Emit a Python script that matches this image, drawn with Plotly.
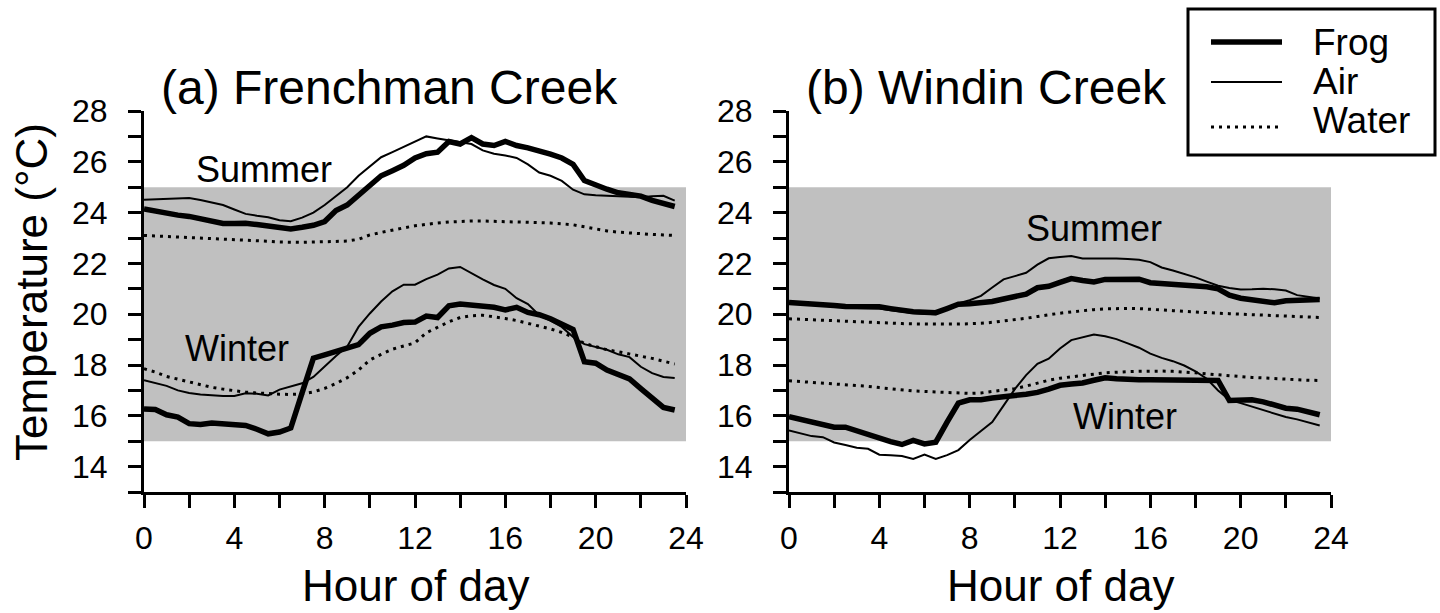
import plotly.graph_objects as go

# Half-hourly time points (hour of day)
HOURS = [0, 0.5, 1, 1.5, 2, 2.5, 3, 3.5, 4, 4.5, 5, 5.5, 6, 6.5, 7, 7.5,
         8, 8.5, 9, 9.5, 10, 10.5, 11, 11.5, 12, 12.5, 13, 13.5, 14, 14.5, 15, 15.5,
         16, 16.5, 17, 17.5, 18, 18.5, 19, 19.5, 20, 20.5, 21, 21.5, 22, 22.5, 23, 23.5]

# (a) Frenchman Creek
A_SUMMER_FROG = [24.14, 24.05, 23.95, 23.90, 23.85, 23.77, 23.68, 23.57, 23.57, 23.58, 23.53, 23.49,
                 23.42, 23.36, 23.42, 23.50, 23.65, 24.08, 24.30, 24.68, 25.05, 25.45, 25.65, 25.86,
                 26.15, 26.32, 26.38, 26.80, 26.70, 26.95, 26.70, 26.64, 26.80, 26.64, 26.55, 26.45,
                 26.30, 26.15, 25.90, 25.26, 25.08, 24.92, 24.78, 24.72, 24.65, 24.48, 24.35, 24.24]
A_SUMMER_AIR = [24.51, 24.53, 24.54, 24.56, 24.57, 24.50, 24.40, 24.30, 24.12, 23.95, 23.88, 23.82,
                23.70, 23.66, 23.80, 24.00, 24.30, 24.65, 25.00, 25.45, 25.80, 26.18, 26.38, 26.58,
                26.80, 27.00, 26.92, 26.84, 26.78, 26.70, 26.45, 26.32, 26.25, 26.15, 25.90, 25.58,
                25.45, 25.25, 24.90, 24.72, 24.68, 24.66, 24.64, 24.62, 24.60, 24.64, 24.66, 24.47]
A_SUMMER_WATER = [23.10, 23.08, 23.06, 23.05, 23.03, 23.01, 23.00, 22.97, 22.95, 22.92, 22.90, 22.87,
                  22.84, 22.83, 22.83, 22.84, 22.85, 22.87, 22.88, 22.95, 23.12, 23.22, 23.32, 23.40,
                  23.48, 23.54, 23.59, 23.63, 23.66, 23.67, 23.67, 23.66, 23.65, 23.64, 23.63, 23.61,
                  23.59, 23.56, 23.52, 23.44, 23.36, 23.28, 23.23, 23.19, 23.16, 23.14, 23.12, 23.10]
A_WINTER_FROG = [16.27, 16.25, 16.04, 15.95, 15.69, 15.66, 15.72, 15.68, 15.66, 15.62, 15.47, 15.29,
                 15.36, 15.52, 16.90, 18.27, 18.40, 18.53, 18.65, 18.80, 19.25, 19.50, 19.57, 19.67,
                 19.69, 19.93, 19.87, 20.33, 20.40, 20.36, 20.27, 20.27, 20.17, 20.27, 20.07, 19.98,
                 19.82, 19.63, 19.40, 18.13, 18.07, 17.80, 17.65, 17.45, 17.07, 16.70, 16.33, 16.23]
A_WINTER_AIR = [17.40, 17.28, 17.18, 17.00, 16.90, 16.84, 16.80, 16.78, 16.78, 16.89, 16.87, 16.80,
                17.03, 17.15, 17.28, 17.53, 17.95, 18.35, 18.73, 19.50, 20.03, 20.50, 20.90, 21.16,
                21.16, 21.38, 21.56, 21.80, 21.86, 21.60, 21.37, 21.15, 21.00, 20.63, 20.40, 19.96,
                19.75, 19.50, 19.10, 18.82, 18.72, 18.60, 18.42, 18.31, 17.93, 17.68, 17.53, 17.49]
A_WINTER_WATER = [17.85, 17.72, 17.55, 17.44, 17.33, 17.20, 17.12, 17.05, 16.98, 16.93, 16.90, 16.87,
                  16.85, 16.84, 16.86, 16.94, 17.08, 17.27, 17.50, 17.80, 18.20, 18.42, 18.62, 18.75,
                  18.87, 19.27, 19.50, 19.70, 19.87, 19.94, 19.96, 19.90, 19.83, 19.75, 19.65, 19.55,
                  19.42, 19.28, 19.10, 18.85, 18.72, 18.60, 18.52, 18.44, 18.36, 18.26, 18.15, 18.04]

# (b) Windin Creek
B_SUMMER_FROG = [20.46, 20.44, 20.42, 20.38, 20.34, 20.30, 20.29, 20.29, 20.29, 20.22, 20.15, 20.10,
                 20.08, 20.06, 20.22, 20.39, 20.41, 20.43, 20.50, 20.60, 20.70, 20.79, 21.04, 21.10,
                 21.25, 21.40, 21.33, 21.27, 21.37, 21.39, 21.38, 21.38, 21.24, 21.21, 21.18, 21.12,
                 21.09, 21.08, 21.00, 20.75, 20.63, 20.56, 20.48, 20.45, 20.53, 20.55, 20.56, 20.58]
B_SUMMER_AIR = [20.42, 20.40, 20.37, 20.33, 20.29, 20.26, 20.24, 20.23, 20.22, 20.16, 20.10, 20.05,
                20.02, 20.00, 20.20, 20.42, 20.55, 20.72, 21.05, 21.37, 21.50, 21.63, 21.95, 22.20,
                22.25, 22.29, 22.19, 22.20, 22.20, 22.19, 22.17, 22.14, 22.05, 21.84, 21.72, 21.60,
                21.45, 21.28, 21.12, 21.03, 20.97, 20.98, 21.00, 20.98, 20.93, 20.75, 20.68, 20.62]
B_SUMMER_WATER = [19.82, 19.80, 19.78, 19.76, 19.74, 19.71, 19.69, 19.67, 19.65, 19.64, 19.63, 19.62,
                  19.61, 19.61, 19.61, 19.61, 19.62, 19.64, 19.68, 19.73, 19.78, 19.84, 19.91, 19.98,
                  20.04, 20.09, 20.14, 20.18, 20.21, 20.23, 20.23, 20.22, 20.20, 20.18, 20.14, 20.11,
                  20.08, 20.06, 20.04, 20.02, 20.00, 19.98, 19.96, 19.94, 19.92, 19.90, 19.88, 19.87]
B_WINTER_FROG = [15.97, 15.86, 15.75, 15.64, 15.55, 15.55, 15.40, 15.25, 15.09, 14.98, 14.87, 15.03,
                 14.89, 14.96, 15.75, 16.50, 16.63, 16.63, 16.70, 16.77, 16.80, 16.85, 16.92, 17.05,
                 17.20, 17.25, 17.29, 17.40, 17.50, 17.46, 17.42, 17.42, 17.42, 17.42, 17.42, 17.42,
                 17.42, 17.40, 17.39, 16.60, 16.60, 16.63, 16.55, 16.40, 16.30, 16.26, 16.14, 16.04]
B_WINTER_AIR = [15.42, 15.30, 15.20, 15.16, 14.95, 14.85, 14.74, 14.70, 14.47, 14.45, 14.42, 14.30,
                14.47, 14.30, 14.45, 14.65, 15.05, 15.40, 15.75, 16.40, 17.05, 17.60, 18.05, 18.25,
                18.65, 18.98, 19.10, 19.20, 19.13, 19.02, 18.85, 18.68, 18.45, 18.28, 18.15, 17.98,
                17.75, 17.46, 17.00, 16.63, 16.50, 16.36, 16.23, 16.08, 15.95, 15.86, 15.75, 15.62]
B_WINTER_WATER = [17.38, 17.35, 17.32, 17.29, 17.26, 17.22, 17.19, 17.16, 17.11, 17.06, 17.01, 16.98,
                  16.96, 16.94, 16.91, 16.89, 16.88, 16.90, 16.95, 17.00, 17.07, 17.17, 17.30, 17.40,
                  17.48, 17.54, 17.59, 17.64, 17.69, 17.72, 17.74, 17.75, 17.76, 17.76, 17.75, 17.73,
                  17.69, 17.65, 17.61, 17.57, 17.54, 17.51, 17.49, 17.46, 17.44, 17.42, 17.40, 17.39]

PANEL_TITLES = ["(a) Frenchman Creek", "(b) Windin Creek"]
SERIES_NAMES = ["Frog", "Air", "Water"]
Y_TICKS = [13, 14, 15, 16, 17, 18, 19, 20, 21, 22, 23, 24, 25, 26, 27, 28]
Y_TICK_TEXT = ["", "14", "", "16", "", "18", "", "20", "", "22", "", "24", "", "26", "", "28"]
X_TICKS = [0, 2, 4, 6, 8, 10, 12, 14, 16, 18, 20, 22, 24]
X_TICK_TEXT = ["0", "", "4", "", "8", "", "12", "", "16", "", "20", "", "24"]
BAND = (15, 25)

FONT = "Liberation Sans, Arial, sans-serif"
W, H = 1440, 613

fig = go.Figure()

styles = {
    "Frog": dict(color="black", width=5.5),
    "Air": dict(color="black", width=2),
    "Water": dict(color="black", width=3, dash="3px,5px"),
}

panels = [
    ("x", "y", {"Frog": [A_SUMMER_FROG, A_WINTER_FROG], "Air": [A_SUMMER_AIR, A_WINTER_AIR],
                "Water": [A_SUMMER_WATER, A_WINTER_WATER]}),
    ("x2", "y2", {"Frog": [B_SUMMER_FROG, B_WINTER_FROG], "Air": [B_SUMMER_AIR, B_WINTER_AIR],
                  "Water": [B_SUMMER_WATER, B_WINTER_WATER]}),
]

for xa, ya, data in panels:
    for name in ["Water", "Air", "Frog"]:
        for series in data[name]:
            fig.add_trace(go.Scatter(
                x=HOURS, y=series, mode="lines", name=name, line=styles[name],
                xaxis=xa, yaxis=ya, showlegend=False,
            ))

# grey band
for xa, ya in [("x", "y"), ("x2", "y2")]:
    fig.add_shape(type="rect", xref=xa, yref=ya, x0=0, x1=24, y0=BAND[0], y1=BAND[1],
                  fillcolor="#c0c0c0", line=dict(width=0), layer="below")


def px(x):
    return x / W


def py(y):
    return 1 - y / H


# legend key (box, sample lines, labels)
fig.add_shape(type="rect", xref="paper", yref="paper", x0=px(1188), x1=px(1435), y0=py(155), y1=py(9),
              line=dict(color="black", width=3), fillcolor="white", layer="above")
legend_rows = [("Frog", 42, 42), ("Air", 82, 82), ("Water", 127, 120)]
for name, ly, ty in legend_rows:
    fig.add_shape(type="line", xref="paper", yref="paper", x0=px(1211), x1=px(1282), y0=py(ly), y1=py(ly),
                  line=styles[name], layer="above")

ydom = [py(492), py(111)]
axis_common = dict(showgrid=False, zeroline=False, showline=True, linecolor="black", linewidth=3,
                   ticks="outside", ticklen=13, tickwidth=3, tickcolor="black", automargin=False,
                   tickfont=dict(family=FONT, size=32, color="black"))
xcommon = dict(axis_common, range=[0, 24], tickmode="array", tickvals=X_TICKS, ticktext=X_TICK_TEXT,
               ticklabelstandoff=3)
ycommon = dict(axis_common, range=[13, 28], tickmode="array", tickvals=Y_TICKS, ticktext=Y_TICK_TEXT,
               ticklabelstandoff=14)

fig.update_layout(
    width=W, height=H,
    margin=dict(l=0, r=0, t=0, b=0, pad=0, autoexpand=False),
    plot_bgcolor="white", paper_bgcolor="white",
    font=dict(family=FONT, color="black"),
    xaxis=dict(xcommon, domain=[px(144), px(686)], anchor="y"),
    yaxis=dict(ycommon, domain=ydom, anchor="x"),
    xaxis2=dict(xcommon, domain=[px(789), px(1331)], anchor="y2"),
    yaxis2=dict(ycommon, domain=ydom, anchor="x2"),
    showlegend=False,
)


def ann(text, x, y, size, xref="paper", yref="paper", xanchor="center", angle=0):
    return dict(text=text, x=x, y=y, xref=xref, yref=yref, xanchor=xanchor, yanchor="middle",
                textangle=angle, showarrow=False, font=dict(size=size, family=FONT, color="black"))


annotations = [
    ann(PANEL_TITLES[0], px(159), py(88), 48, xanchor="left"),
    ann(PANEL_TITLES[1], px(804), py(88), 48, xanchor="left"),
    ann("Temperature (°C)", px(32), py(292), 44, angle=-90),
    ann("Hour of day", px(416), py(585), 44),
    ann("Hour of day", px(1060), py(585), 44),
    ann("Summer", 5.3, 25.7, 36, xref="x", yref="y"),
    ann("Winter", 4.1, 18.64, 36, xref="x", yref="y"),
    ann("Summer", 13.5, 23.38, 36, xref="x2", yref="y2"),
    ann("Winter", 14.9, 15.98, 36, xref="x2", yref="y2"),
]
for name, ly, ty in legend_rows:
    annotations.append(ann(name, px(1311), py(ty), 37, xanchor="left"))
fig.update_layout(annotations=annotations)

fig.write_html("out.html", config={"displayModeBar": False},
               post_script="document.body.style.margin='0px';")
